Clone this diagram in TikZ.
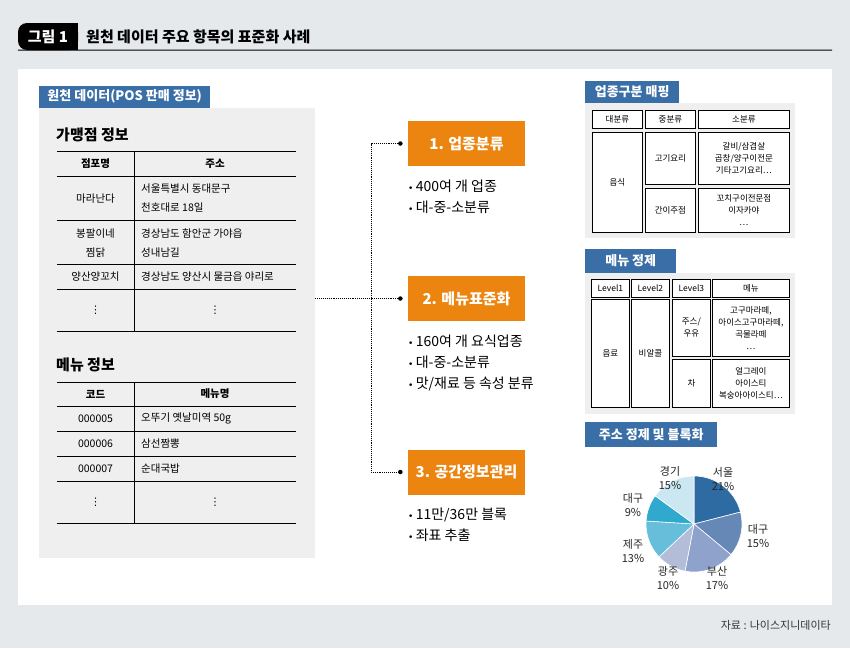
\documentclass[tikz,border=0pt]{standalone}
\usepackage{fontspec}
\setmainfont{Noto Sans CJK KR}
\newfontfamily\dejavu{DejaVu Sans}
\newcommand{\itemdot}{{\dejavu\fontsize{9}{9}\selectfont •}\hspace{2.5pt}}
\newcommand{\vdotsym}{{\dejavu ⋮}}
\usetikzlibrary{positioning}
\definecolor{bgblue}{HTML}{E6E9EC}
\definecolor{panel}{HTML}{EFEFEF}
\definecolor{tabblue}{HTML}{3A6EA6}
\definecolor{taskorange}{HTML}{EC850F}
\definecolor{pieA}{HTML}{2F6BA3}
\definecolor{pieB}{HTML}{6588B6}
\definecolor{pieC}{HTML}{8FA2CB}
\definecolor{pieD}{HTML}{B3BDD8}
\definecolor{pieE}{HTML}{66BEDA}
\definecolor{pieF}{HTML}{30A9CF}
\definecolor{pieG}{HTML}{CBE7F1}
\begin{document}
\begin{tikzpicture}[x=1pt, y=-1pt,
  tab/.style={fill=tabblue, text=white, inner sep=0pt, anchor=south west, font=\bfseries\fontsize{13}{15}\selectfont},
  head/.style={anchor=west, inner sep=0pt, font=\bfseries\fontsize{15}{18}\selectfont},
  th/.style={inner sep=0pt, font=\bfseries\fontsize{10.5}{19}\selectfont},
  td/.style={inner sep=0pt, align=center, font=\fontsize{10.5}{19}\selectfont},
  tdl/.style={td, anchor=west, align=left},
  tline/.style={line width=0.8pt},
  task/.style={fill=taskorange, text=white, minimum width=117pt, minimum height=45pt, font=\bfseries\fontsize{15}{18}\selectfont},
  bul/.style={inner sep=0pt, align=left, font=\fontsize{14}{21}\selectfont},
  dot/.style={circle, fill=black, inner sep=0pt, minimum size=4.5pt},
  conn/.style={densely dotted, line width=0.9pt},
  cell/.style={draw, fill=white, line width=0.8pt, anchor=north west, inner sep=0pt, align=center, font=\fontsize{8.5}{12}\selectfont},
  pielab/.style={align=center, inner sep=0pt, text=black!85, font=\fontsize{11}{14}\selectfont}]

\useasboundingbox (0,0) rectangle (850,648);
\fill[bgblue] (0,0) rectangle (850,648);
\fill[white] (18,69) rectangle (832,605);

\fill[black] (48,23) rectangle (78,50);
\node[fill=black, text=white, rounded corners=9pt, minimum width=60pt, minimum height=27pt, inner sep=0pt, font=\bfseries\fontsize{15}{18}\selectfont] (fig) at (48,36.5) {그림 1};
\node[head] (title) at (86,37) {원천 데이터 주요 항목의 표준화 사례};
\draw[line width=1pt] (fig.south west) -- (832,50);

\node[fill=panel, minimum width=276pt, minimum height=450pt, inner sep=0pt, anchor=north west] (pos) at (39,108) {};
\node[tab, minimum width=171pt, minimum height=22pt] (src) at (39,108) {원천 데이터(POS 판매 정보)};

\node[head] (shop) at (56,135) {가맹점 정보};
\draw[tline] (57,151) -- (296,151);
\draw[tline] (57,176) -- (296,176);
\draw[tline] (57,220) -- (296,220);
\draw[tline] (57,264) -- (296,264);
\draw[tline] (57,289) -- (296,289);
\draw[tline] (57,331) -- (296,331);
\draw[tline] (134,151) -- (134,331);
\node[th] (h1) at (95.5,163.5) {점포명};
\node[th] (h2) at (215,163.5) {주소};
\node[td] (n1) at (95.5,198.5) {마라난다};
\node[tdl] (a1) at (141,198.5) {서울특별시 동대문구\\천호대로 18일};
\node[td] (n2) at (95.5,243.5) {봉팔이네\\찜닭};
\node[tdl] (a2) at (141,243.5) {경상남도 함안군 가야읍\\성내남길};
\node[td] (n3) at (95.5,276.5) {양산양꼬치};
\node[tdl] (a3) at (141,276.5) {경상남도 양산시 물금읍 야리로};
\node[td] (n4) at (95.5,310) {\vdotsym};
\node[td] (a4) at (215,310) {\vdotsym};

\node[head] (menu) at (56,365) {메뉴 정보};
\draw[tline] (57,382) -- (296,382);
\draw[tline] (57,406) -- (296,406);
\draw[tline] (57,431) -- (296,431);
\draw[tline] (57,456) -- (296,456);
\draw[tline] (57,481) -- (296,481);
\draw[tline] (57,523) -- (296,523);
\draw[tline] (134,382) -- (134,523);
\node[th] (k1) at (95.5,394) {코드};
\node[th] (k2) at (215,394) {메뉴명};
\node[td] (c1) at (95.5,418.5) {000005};
\node[tdl] (m1) at (141,418.5) {오뚜기 옛날미역 50g};
\node[td] (c2) at (95.5,443.5) {000006};
\node[tdl] (m2) at (141,443.5) {삼선짬뽕};
\node[td] (c3) at (95.5,468.5) {000007};
\node[tdl] (m3) at (141,468.5) {순대국밥};
\node[td] (c4) at (95.5,502) {\vdotsym};
\node[td] (m4) at (215,502) {\vdotsym};

\node[task] (b1) at (466.5,143.5) {1. 업종분류};
\node[task] (b2) at (466.5,298.5) {2. 메뉴표준화};
\node[task] (b3) at (466.5,472) {3. 공간정보관리};
\node[bul, below right=13.5pt and 0pt of b1.south west] (l1) {\itemdot 400여 개 업종\\\itemdot 대-중-소분류};
\node[bul, below right=13.5pt and 0pt of b2.south west] (l2) {\itemdot 160여 개 요식업종\\\itemdot 대-중-소분류\\\itemdot 맛/재료 등 속성 분류};
\node[bul, below right=13.5pt and 0pt of b3.south west] (l3) {\itemdot 11만/36만 블록\\\itemdot 좌표 추출};

\node[dot, left=5pt of b1] (d1) {};
\node[dot, left=5pt of b2] (d2) {};
\node[dot, left=5pt of b3] (d3) {};
\coordinate (j) at (371,298.5);
\draw[conn] (pos.east |- d2) -- (d2);
\draw[conn] (d1) -- (d1 -| j) -- (d3 -| j) -- (d3);

\node[tab, minimum width=94pt, minimum height=22pt] (map) at (585,103) {업종구분 매핑};
\fill[panel] (585,103) rectangle (795,238);
\node[cell, minimum width=50pt, minimum height=18pt] (u1) at (592,110) {대분류};
\node[cell, minimum width=50pt, minimum height=18pt] (u2) at (645,110) {중분류};
\node[cell, minimum width=91pt, minimum height=18pt] (u3) at (698,110) {소분류};
\node[cell, minimum width=50pt, minimum height=100pt] (u4) at (592,132) {음식};
\node[cell, minimum width=50pt, minimum height=52pt] (u5) at (645,132) {고기요리};
\node[cell, minimum width=91pt, minimum height=52pt] (u6) at (698,132) {갈비/삼겹살\\곱창/양구이전문\\기타고기요리…};
\node[cell, minimum width=50pt, minimum height=44pt] (u7) at (645,188) {간이주점};
\node[cell, minimum width=91pt, minimum height=44pt] (u8) at (698,188) {꼬치구이전문점\\이자카야\\…};

\node[tab, minimum width=91pt, minimum height=24pt] (clean) at (585,273) {메뉴 정제};
\fill[panel] (585,273) rectangle (795,414);
\node[cell, minimum width=38pt, minimum height=18pt] (v1) at (591,279) {Level1};
\node[cell, minimum width=38pt, minimum height=18pt] (v2) at (631,279) {Level2};
\node[cell, minimum width=38pt, minimum height=18pt] (v3) at (672,279) {Level3};
\node[cell, minimum width=77pt, minimum height=18pt] (v4) at (712,279) {메뉴};
\node[cell, minimum width=38pt, minimum height=108pt] (v5) at (591,299) {음료};
\node[cell, minimum width=38pt, minimum height=108pt] (v6) at (631,299) {비알콜};
\node[cell, minimum width=38pt, minimum height=57pt] (v7) at (672,299) {주스/\\우유};
\node[cell, minimum width=77pt, minimum height=57pt] (v8) at (712,299) {고구마라떼,\\아이스고구마라떼,\\곡물라떼\\…};
\node[cell, minimum width=38pt, minimum height=48pt] (v9) at (672,359) {차};
\node[cell, minimum width=77pt, minimum height=48pt] (v10) at (712,359) {얼그레이\\아이스티\\복숭아아이스티…};

\node[tab, minimum width=132pt, minimum height=25pt] (addr) at (585,447) {주소 정제 및 블록화};
\begin{scope}[shift={(694,524)}, y=1pt]
\fill[pieA, draw=white, line width=0.6pt] (0,0) -- (90:48) arc[start angle=90, end angle=14.4, radius=48] -- cycle;
\fill[pieB, draw=white, line width=0.6pt] (0,0) -- (14.4:48) arc[start angle=14.4, end angle=-39.6, radius=48] -- cycle;
\fill[pieC, draw=white, line width=0.6pt] (0,0) -- (-39.6:48) arc[start angle=-39.6, end angle=-100.8, radius=48] -- cycle;
\fill[pieD, draw=white, line width=0.6pt] (0,0) -- (-100.8:48) arc[start angle=-100.8, end angle=-136.8, radius=48] -- cycle;
\fill[pieE, draw=white, line width=0.6pt] (0,0) -- (-136.8:48) arc[start angle=-136.8, end angle=-183.6, radius=48] -- cycle;
\fill[pieF, draw=white, line width=0.6pt] (0,0) -- (-183.6:48) arc[start angle=-183.6, end angle=-216, radius=48] -- cycle;
\fill[pieG, draw=white, line width=0.6pt] (0,0) -- (-216:48) arc[start angle=-216, end angle=-270, radius=48] -- cycle;
\node[pielab] (p1) at (29,45) {서울\\21\%};
\node[pielab] (p2) at (64,-12.5) {대구\\15\%};
\node[pielab] (p3) at (23,-54) {부산\\17\%};
\node[pielab] (p4) at (-26,-54) {광주\\10\%};
\node[pielab] (p5) at (-61,-27) {제주\\13\%};
\node[pielab] (p6) at (-61,19) {대구\\9\%};
\node[pielab] (p7) at (-24,46) {경기\\15\%};
\end{scope}

\node[anchor=east, inner sep=0pt, text=black!80, font=\fontsize{11}{13}\selectfont] (note) at (831,625) {자료 : 나이스지니데이타};
\end{tikzpicture}
\end{document}
